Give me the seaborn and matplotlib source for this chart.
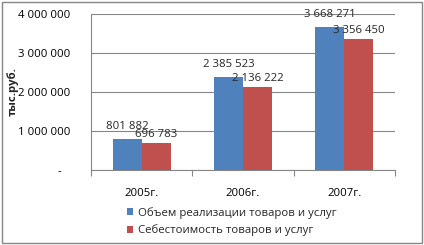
import matplotlib
matplotlib.use("Agg")
import matplotlib.pyplot as plt
import matplotlib.patches as mpatches
import seaborn as sns
import pandas as pd

years = ["2005г.", "2006г.", "2007г."]
series_names = ["Объем реализации товаров и услуг", "Себестоимость товаров и услуг"]
revenue = [801882, 2385523, 3668271]
cost = [696783, 2136222, 3356450]
y_ticks = [0, 1000000, 2000000, 3000000, 4000000]
y_label = "тыс.руб."
colors = ["#4F81BD", "#C0504D"]

sns.set_theme(style="white")
plt.rcParams['font.family'] = ['Open Sans', 'DejaVu Sans']
FS = 8.2

df = pd.DataFrame({
    "year": years * 2,
    "value": revenue + cost,
    "series": [series_names[0]] * 3 + [series_names[1]] * 3,
})

fig = plt.figure(figsize=(4.24, 2.45), dpi=100)
ax = fig.add_axes([91 / 424, 1 - 170 / 245, (395 - 91) / 424, (170 - 14) / 245])

sns.barplot(data=df, x="year", y="value", hue="series", hue_order=series_names,
            palette=colors, width=0.57, saturation=1, ax=ax, errorbar=None,
            linewidth=0)

ax.set_ylim(0, 4000000)
ax.set_xlim(-0.5, 2.5)
ax.set_yticks(y_ticks)
ax.set_yticklabels(["-   " if v == 0 else f"{v:,}".replace(",", " ") for v in y_ticks],
                   fontsize=FS, color="black")
ax.tick_params(axis="y", length=0, pad=15)
ax.yaxis.grid(True, color="#868686", linewidth=0.8)
ax.set_axisbelow(True)

ax.set_xticks([0, 1, 2])
ax.set_xticklabels(years, fontsize=FS, color="black")
ax.tick_params(axis="x", length=0, pad=13)
ax.set_xticks([-0.5, 0.5, 1.5, 2.5], minor=True)
ax.tick_params(axis="x", which="minor", length=4, width=0.8, color="#868686", direction="out", bottom=True)
ax.set_xlabel("")
ax.set_ylabel(y_label, fontsize=FS, fontweight="bold")
ax.yaxis.set_label_coords((19 - 91) / 304, 0.5)

for s in ["top", "right"]:
    ax.spines[s].set_visible(False)
for s in ["left", "bottom"]:
    ax.spines[s].set_color("#868686")
    ax.spines[s].set_linewidth(0.8)

fmt = lambda v: f"{int(v):,}".replace(",", " ")
ax.bar_label(ax.containers[0], labels=[fmt(v) for v in revenue], padding=5, fontsize=FS)
ax.bar_label(ax.containers[1], labels=[fmt(v) for v in cost], padding=2, fontsize=FS)

handles, labels = ax.get_legend_handles_labels()
ax.legend(handles, labels, loc="upper left", bbox_to_anchor=(127 / 424, 1 - 207 / 245),
          bbox_transform=fig.transFigure, frameon=False, fontsize=FS,
          handlelength=0.55, handleheight=0.55, handletextpad=0.45, labelspacing=0.5,
          borderpad=0, borderaxespad=0)

fig.patches.append(mpatches.Rectangle((2 / 424, 2 / 245), 420 / 424, 241 / 245,
                                      transform=fig.transFigure, fill=False,
                                      edgecolor="#868686", linewidth=1))

fig.savefig("out.png", dpi=100)
